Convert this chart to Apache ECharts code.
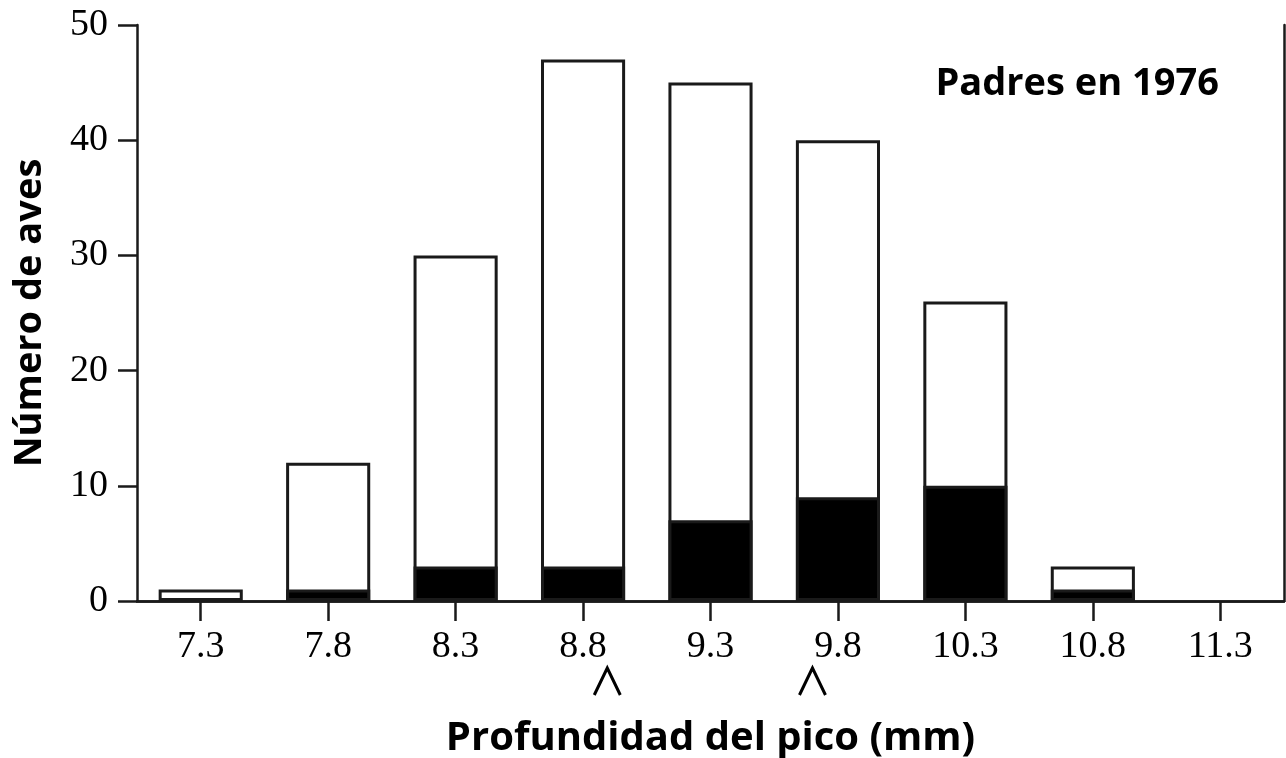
<!DOCTYPE html>
<html>
<head>
<meta charset="utf-8">
<script src="https://cdn.jsdelivr.net/npm/echarts@6/dist/echarts.min.js"></script>
<style>
html,body{margin:0;padding:0;background:#fff;overflow:hidden;}
#chart{width:1286px;height:758px;}
</style>
</head>
<body>
<div id="chart"></div>
<script>
const categories = ['7.3','7.8','8.3','8.8','9.3','9.8','10.3','10.8','11.3'];
const totalBirds = [1, 12, 30, 47, 45, 40, 26, 3, 0];
const survivors = [0, 1, 3, 3, 7, 9, 10, 1, 0];
const yTicks = [0, 10, 20, 30, 40, 50];
const caretPositions = [3.19, 4.80]; // in category-index units
const titleText = 'Padres en 1976';
const xTitle = 'Profundidad del pico (mm)';
const yTitle = 'Número de aves';

const chart = echarts.init(document.getElementById('chart'));
const lineColor = '#1a1a1a';
const serif = '"Liberation Serif", "DejaVu Serif", serif';
const sans = '"Open Sans", "Noto Sans", sans-serif';
const hideZero = arr => arr.map(v => (v === 0 ? '-' : v));

chart.setOption({
  animation: false,
  backgroundColor: '#fff',
  grid: {left: 137, right: 2, top: 25, bottom: 157, containLabel: false, outerBoundsMode: 'none'},
  title: {
    text: titleText, right: 62, top: 60,
    textStyle: {fontFamily: sans, fontWeight: 'bold', fontSize: 38, color: '#000'}
  },
  xAxis: [{
    type: 'category', data: categories, boundaryGap: true,
    axisLine: {show: true, lineStyle: {color: lineColor, width: 2.5}},
    axisTick: {show: true, alignWithLabel: true, length: 20, inside: false, lineStyle: {color: lineColor, width: 2.5}},
    axisLabel: {margin: 27, fontFamily: serif, fontSize: 38, color: '#000'},
    name: xTitle, nameLocation: 'middle', nameGap: 118,
    nameTextStyle: {fontFamily: sans, fontWeight: 'bold', fontSize: 40, color: '#000'}
  }, {
    type: 'category', data: categories, position: 'top',
    axisLine: {show: true, lineStyle: {color: lineColor, width: 2.5}},
    axisTick: {show: false}, axisLabel: {show: false}
  }],
  yAxis: [{
    type: 'value', min: 0, max: 50, interval: 10,
    axisLine: {show: true, lineStyle: {color: lineColor, width: 2.5}},
    axisTick: {show: true, length: 19, lineStyle: {color: lineColor, width: 2.5}},
    axisLabel: {margin: 29, fontFamily: serif, fontSize: 38, color: '#000',
      formatter: v => yTicks.includes(v) ? String(v) : ''},
    splitLine: {show: false},
    name: yTitle, nameLocation: 'middle', nameGap: 88, nameRotate: 90,
    nameTextStyle: {fontFamily: sans, fontWeight: 'bold', fontSize: 38, color: '#000'}
  }, {
    type: 'value', min: 0, max: 50, interval: 10, position: 'right',
    axisLine: {show: true, lineStyle: {color: lineColor, width: 2.5}},
    axisTick: {show: false}, axisLabel: {show: false}, splitLine: {show: false}
  }],
  series: [{
    type: 'bar', data: hideZero(totalBirds), barWidth: '66%', barGap: '-100%',
    itemStyle: {color: '#fff', borderColor: lineColor, borderWidth: 3},
    z: 2
  }, {
    type: 'bar', data: hideZero(survivors), barWidth: '66%', barGap: '-100%',
    itemStyle: {color: '#000', borderColor: lineColor, borderWidth: 3},
    z: 3
  }]
});

function drawCarets() {
  const p0 = chart.convertToPixel({xAxisIndex: 0}, categories[0]);
  const p1 = chart.convertToPixel({xAxisIndex: 0}, categories[1]);
  const step = p1 - p0;
  const y0 = chart.convertToPixel({yAxisIndex: 0}, 0);
  const els = caretPositions.map(pos => {
    const cx = p0 + step * pos;
    const top = y0 + 67, bot = y0 + 94;
    return {
      type: 'polyline',
      shape: {points: [[cx - 13, bot], [cx, top], [cx + 13, bot]]},
      style: {stroke: '#000', lineWidth: 3, fill: null}
    };
  });
  chart.setOption({graphic: els});
}
drawCarets();
</script>
</body>
</html>
